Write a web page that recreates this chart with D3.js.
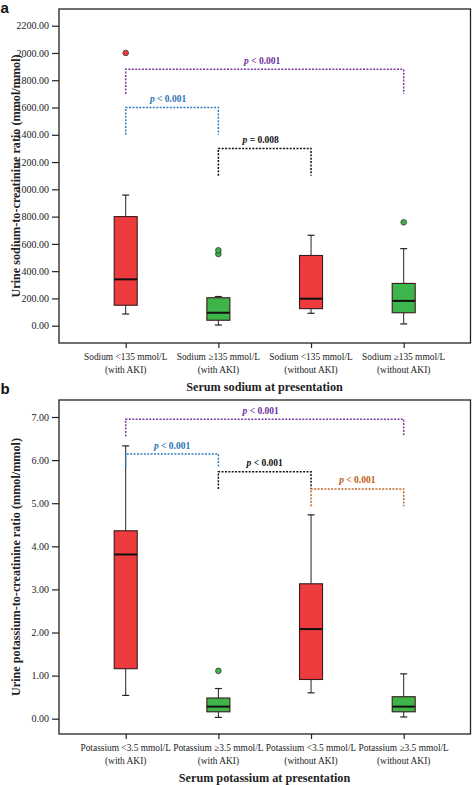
<!DOCTYPE html>
<html><head><meta charset="utf-8">
<script src="https://cdn.jsdelivr.net/npm/d3@7"></script>
<style>body{margin:0;background:#fff}svg{display:block}</style>
</head><body>
<script>
// ---- Data ----
const sodiumCatLine1 = ["Sodium <135 mmol/L", "Sodium \u2265135 mmol/L", "Sodium <135 mmol/L", "Sodium \u2265135 mmol/L"];
const potassiumCatLine1 = ["Potassium <3.5 mmol/L", "Potassium \u22653.5 mmol/L", "Potassium <3.5 mmol/L", "Potassium \u22653.5 mmol/L"];
const catLine2 = ["(with AKI)", "(with AKI)", "(without AKI)", "(without AKI)"];
const groupColors = ["red", "green", "red", "green"];

// [lower whisker, Q1, median, Q3, upper whisker]
const sodiumStats = [
  [86, 150, 340, 800, 958],
  [5, 40, 95, 205, 214],
  [91, 125, 198, 515, 663],
  [13, 95, 182, 310, 565]
];
const sodiumOutliers = [[2000], [526, 553], [], [758]];
const potassiumStats = [
  [0.54, 1.16, 3.81, 4.36, 6.33],
  [0.03, 0.16, 0.28, 0.48, 0.70],
  [0.60, 0.91, 2.08, 3.13, 4.73],
  [0.04, 0.16, 0.28, 0.51, 1.04]
];
const potassiumOutliers = [[], [1.11], [], []];

const sodiumTicks = [0, 200, 400, 600, 800, 1000, 1200, 1400, 1600, 1800, 2000, 2200];
const potassiumTicks = [0, 1, 2, 3, 4, 5, 6, 7];

// brackets: from group, to group, top value, left end, right end, label, colour key
const sodiumBrFrom = [0, 0, 1];
const sodiumBrTo = [3, 1, 2];
const sodiumBrTop = [1880, 1600, 1300];
const sodiumBrLeftEnd = [1700, 1400, 1100];
const sodiumBrRightEnd = [1700, 1400, 1100];
const sodiumBrLabel = ["< 0.001", "< 0.001", "= 0.008"];
const sodiumBrColor = ["purple", "blue", "black"];

const potassiumBrFrom = [0, 0, 1, 2];
const potassiumBrTo = [3, 1, 2, 3];
const potassiumBrTop = [6.95, 6.14, 5.73, 5.33];
const potassiumBrLeftEnd = [6.55, 5.85, 5.33, 4.93];
const potassiumBrRightEnd = [6.55, 5.83, 5.33, 4.93];
const potassiumBrLabel = ["< 0.001", "< 0.001", "< 0.001", "< 0.001"];
const potassiumBrColor = ["purple", "blue", "black", "orange"];

// ---- Styles ----
const fill = {red: "#ee3b3e", green: "#3db54a"};
const lineCol = {purple: "#7a3aa6", blue: "#2f7ec4", black: "#111", orange: "#c0692a"};
const textCol = {purple: "#7030a0", blue: "#2e75b6", black: "#111", orange: "#c55a11"};
const serif = "'Liberation Serif','Times New Roman',Times,serif";

const W = 472, H = 785;
const svg = d3.select("body").append("svg").attr("width", W).attr("height", H);

function panel(opt) {
  const g = svg.append("g");
  const x = d3.scalePoint().domain(d3.range(4)).range([125.7, 403.7]);
  const y = d3.scaleLinear().domain(opt.domain).range(opt.yRange);
  const fL = 59, fR = 470.5, fT = opt.frameTop, fB = opt.frameBottom;

  // frame
  g.append("rect").attr("x", fL).attr("y", fT).attr("width", fR - fL).attr("height", fB - fT)
    .attr("fill", "none").attr("stroke", "#222").attr("stroke-width", 1.3);

  // y axis
  const ya = g.append("g").attr("transform", `translate(${fL},0)`)
    .call(d3.axisLeft(y).tickValues(opt.ticks).tickFormat(d3.format(".2f")).tickSize(7).tickPadding(3));
  ya.select(".domain").remove();
  ya.selectAll("line").attr("stroke", "#222").attr("stroke-width", 1.2);
  ya.selectAll("text").attr("font-family", serif).attr("font-size", "10px").attr("fill", "#222");

  // x axis
  const xa = g.append("g").attr("transform", `translate(0,${fB})`)
    .call(d3.axisBottom(x).tickSize(5).tickFormat(""));
  xa.select(".domain").remove();
  xa.selectAll("line").attr("stroke", "#222").attr("stroke-width", 1.2);

  d3.range(4).forEach(i => {
    const t = g.append("text").attr("x", x(i)).attr("text-anchor", "middle")
      .attr("font-family", serif).attr("font-size", "9.4px").attr("fill", "#222");
    t.append("tspan").attr("x", x(i)).attr("y", fB + 17).text(opt.line1[i]);
    t.append("tspan").attr("x", x(i)).attr("y", fB + 29.6).text(catLine2[i]);
  });

  g.append("text").attr("x", 264.5).attr("y", fB + 48).attr("text-anchor", "middle")
    .attr("font-family", serif).attr("font-weight", "bold").attr("font-size", "12.2px").attr("fill", "#222")
    .text(opt.xTitle);

  g.append("text").attr("transform", `translate(19.5,${(fT + fB) / 2}) rotate(-90)`)
    .attr("text-anchor", "middle").attr("font-family", serif).attr("font-weight", "bold")
    .attr("font-size", "12.2px").attr("fill", "#222").text(opt.yTitle);

  // boxes
  const bw = 23, cap = 7;
  opt.stats.forEach((s, i) => {
    const cx = x(i);
    const c = fill[groupColors[i]];
    g.append("line").attr("x1", cx).attr("x2", cx).attr("y1", y(s[0])).attr("y2", y(s[1])).attr("stroke", "#222").attr("stroke-width", 1);
    g.append("line").attr("x1", cx).attr("x2", cx).attr("y1", y(s[3])).attr("y2", y(s[4])).attr("stroke", "#222").attr("stroke-width", 1);
    [s[0], s[4]].forEach(v => g.append("line").attr("x1", cx - cap / 2).attr("x2", cx + cap / 2)
      .attr("y1", y(v)).attr("y2", y(v)).attr("stroke", "#222").attr("stroke-width", 1.2));
    g.append("rect").attr("x", cx - bw / 2).attr("width", bw).attr("y", y(s[3])).attr("height", y(s[1]) - y(s[3]))
      .attr("fill", c).attr("stroke", "#3a1a1a").attr("stroke-width", 1.1);
    g.append("line").attr("x1", cx - bw / 2).attr("x2", cx + bw / 2).attr("y1", y(s[2])).attr("y2", y(s[2]))
      .attr("stroke", "#111").attr("stroke-width", 2);
    opt.outliers[i].forEach(v => g.append("circle").attr("cx", cx).attr("cy", y(v)).attr("r", 2.8)
      .attr("fill", c).attr("stroke", "#333").attr("stroke-width", 0.8));
  });

  // brackets
  opt.brFrom.forEach((f, k) => {
    const x1 = x(f), x2 = x(opt.brTo[k]);
    const yt = y(opt.brTop[k]);
    const col = lineCol[opt.brColor[k]];
    g.append("path").attr("d", `M${x1},${y(opt.brLeft[k])}V${yt}H${x2}V${y(opt.brRight[k])}`)
      .attr("fill", "none").attr("stroke", col).attr("stroke-width", 1.5).attr("stroke-dasharray", "2,1.4");
    const t = g.append("text").attr("x", (x1 + x2) / 2 + opt.labelDx[k]).attr("y", yt - 5.5).attr("text-anchor", "middle")
      .attr("font-family", serif).attr("font-weight", "bold").attr("font-size", "9.5px").attr("fill", textCol[opt.brColor[k]]);
    t.append("tspan").attr("font-style", "italic").text("p");
    t.append("tspan").text(" " + opt.brLabel[k]);
  });

  // panel letter
  svg.append("text").attr("x", 0.5).attr("y", opt.letterY).attr("font-family", "'Liberation Sans',Arial,sans-serif")
    .attr("font-weight", "bold").attr("font-size", "15px").attr("fill", "#111").text(opt.letter);
}

panel({
  domain: [0, 2200], yRange: [325.7, 25.7], frameTop: 9, frameBottom: 343,
  ticks: sodiumTicks, stats: sodiumStats, outliers: sodiumOutliers, line1: sodiumCatLine1,
  xTitle: "Serum sodium at presentation", yTitle: "Urine sodium-to-creatinine ratio (mmol/mmol)",
  brFrom: sodiumBrFrom, brTo: sodiumBrTo, brTop: sodiumBrTop, brLeft: sodiumBrLeftEnd, brRight: sodiumBrRightEnd,
  brLabel: sodiumBrLabel, brColor: sodiumBrColor, labelDx: [-2.5, -4, -4], letter: "a", letterY: 12.5
});
panel({
  domain: [0, 7], yRange: [718.7, 417], frameTop: 400, frameBottom: 734,
  ticks: potassiumTicks, stats: potassiumStats, outliers: potassiumOutliers, line1: potassiumCatLine1,
  xTitle: "Serum potassium at presentation", yTitle: "Urine potassium-to-creatinine ratio (mmol/mmol)",
  brFrom: potassiumBrFrom, brTo: potassiumBrTo, brTop: potassiumBrTop, brLeft: potassiumBrLeftEnd, brRight: potassiumBrRightEnd,
  brLabel: potassiumBrLabel, brColor: potassiumBrColor, labelDx: [-4, 0, 0, 0], letter: "b", letterY: 394
});
</script>
</body></html>
